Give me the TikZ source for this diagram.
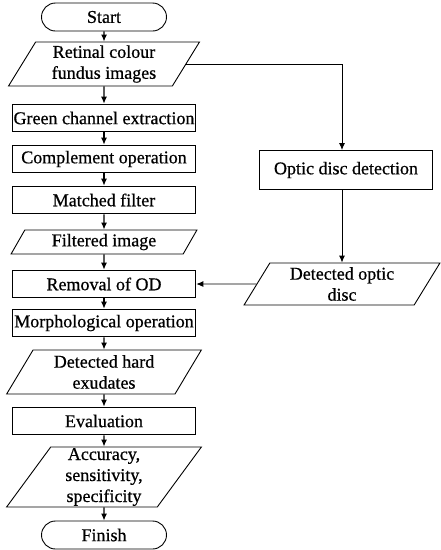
\documentclass[tikz,border=0pt]{standalone}
\usepackage{fontspec}
\setmainfont[FakeBold=0.6]{Liberation Serif}
\usetikzlibrary{shapes.geometric,arrows.meta}
\begin{document}
\begin{tikzpicture}[
		x={(1pt,0pt)},
		y={(0pt,-1pt)},
		font=\fontsize{18}{21}\selectfont,
		terminal/.style={draw,line width=0.9pt,rounded corners=14pt,minimum width=125pt,minimum height=28pt,inner sep=0pt},
		process/.style={draw,line width=1.6pt,minimum width=183pt,minimum height=27pt,inner sep=0pt},
		sideproc/.style={draw,line width=0.9pt,minimum width=173pt,minimum height=39pt,inner sep=0pt},
		io/.style={draw,line width=0.9pt,trapezium,trapezium left angle=61,trapezium right angle=119,trapezium stretches=true,minimum width=191pt,minimum height=44pt,inner sep=0pt,align=center},
		flow/.style={-{Latex[length=7pt,width=6pt]},line width=1.2pt},
	]
	\useasboundingbox (0,0) rectangle (441,550);
	
	% main column
	\node[terminal] (start) at (104,17) {Start};
	\node[io] (retinal) at (104,64) {Retinal colour\\ fundus images};
	\node[process] (green) at (104,118) {Green channel extraction};
	\node[process] (complement) at (104,159) {Complement operation};
	\node[process] (matched) at (104,200) {Matched filter};
	\node[io,minimum height=24pt,minimum width=186pt] (filtered) at (104,242) {Filtered image};
	\node[process] (removal) at (104,284) {Removal of OD};
	\node[process] (morph) at (104,323) {Morphological operation};
	\node[io,minimum width=195pt] (hardex) at (104,372) {Detected hard\\ exudates};
	\node[process] (evaluation) at (104,421) {Evaluation};
	\node[io,minimum height=60pt,minimum width=195pt] (metrics) at (104,477) {Accuracy,\\ sensitivity,\\ specificity};
	\node[terminal] (finish) at (104,535) {Finish};
	
	\foreach \a/\b in {start/retinal,retinal/green,green/complement,complement/matched,matched/filtered,filtered/removal,removal/morph,morph/hardex,hardex/evaluation,evaluation/metrics,metrics/finish}{
		\draw[flow] (\a.south) -- (\b.north);
	}
	
	% optic disc branch
	\node[sideproc] (optic) at (346,170) {Optic disc detection};
	\node[io,minimum height=42pt,minimum width=196pt] (detopt) at (342,284) {Detected optic\\ disc};
	
	\draw[flow,line width=0.9pt] (retinal.east) -| (optic.north -| detopt.north);
	\draw[flow,line width=0.9pt] (optic.south -| detopt.north) -- (detopt.north);
	\draw[flow,line width=0.9pt] (detopt.west) -- (removal.east);
\end{tikzpicture}
\end{document}
